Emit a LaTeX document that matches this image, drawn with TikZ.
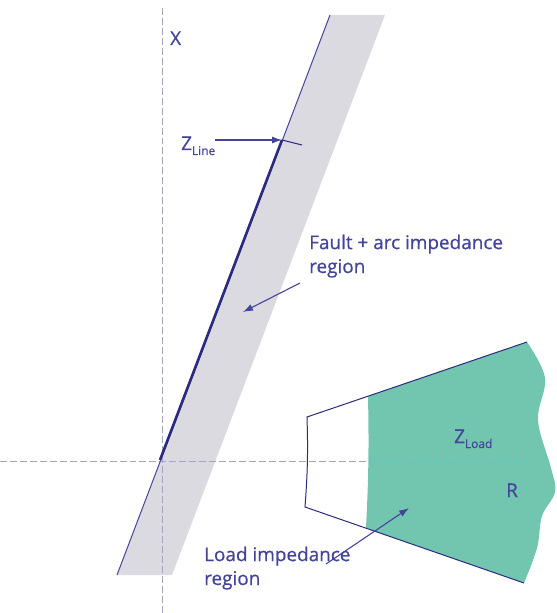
\documentclass[tikz,border=0pt]{standalone}
\usepackage{fontspec}
\setmainfont{Open Sans}
\newfontfamily\plotfont{Open Sans}[FakeBold=0.6]
\definecolor{PlotNavy}{HTML}{2A2A7E}
\definecolor{PlotText}{HTML}{44449A}
\definecolor{PlotAxis}{HTML}{A4A4C4}
\definecolor{PlotGrey}{HTML}{DADAE0}
\definecolor{PlotTeal}{HTML}{72C6AF}
\usetikzlibrary{arrows.meta, positioning, calc}
\newcommand{\zsub}[1]{\raisebox{-5bp}{\fontsize{12}{12}\selectfont #1}}
\tikzset{
    axisline/.style={
        draw=PlotAxis,
        dash pattern=on 7pt off 3pt,
        line width=0.9pt
    },
    plottext/.style={
        text=PlotText,
        font=\plotfont\fontsize{19}{24}\selectfont,
        align=left,
        inner sep=0pt
    },
    pointer/.style={
        -{Latex[length=10pt,width=7pt]},
        draw=PlotText,
        line width=1.1pt
    },
    edge/.style={
        draw=PlotNavy,
        line width=1pt
    }
}

\begin{document}
\begin{tikzpicture}[x=1bp, y=-1bp]
        \useasboundingbox (0,0) rectangle (557,613);

        % Fault + arc band
        \fill[PlotGrey] (117,575) -- (330,15) -- (385,15) -- (172,575) -- cycle;

        % Load region
        \fill[PlotTeal] (368,396) -- (527,342)
            -- plot[smooth, tension=0.6] coordinates {(527,342) (545,378) (538,420) (551,468) (555,492) (542,516) (537,548) (524,583)}
            -- (366,528) to[bend right=2] cycle;
        \draw[edge] (527,342) -- (307,417) to[bend left=3] (305,507) -- (524,583);

        % Axes
        \draw[axisline] (162,8) -- (162,613);
        \draw[axisline] (0,461) -- (526,461);

        % Line impedance
        \coordinate (origin) at (160,460);
        \coordinate (zreach) at (282,140);
        \draw[edge, draw=PlotText] (117,575) -- (330,15);
        \draw[PlotNavy, line width=2.6pt] (origin) -- (zreach);
        \draw[edge] (zreach) -- (302,145);

        % Labels
        \node[plottext, anchor=base west] (xlabel) at (170,45) {X};
        \node[plottext, anchor=base west] (rlabel) at (506,497) {R};
        \node[plottext, anchor=base west] (zline) at (181,150) {Z\zsub{Line}};
        \node[plottext, anchor=base west] (zload) at (454,443) {Z\zsub{Load}};
        \node[plottext, anchor=base west] (fault) at (309,273) {Fault + arc impedance\\region};
        \node[plottext, anchor=base west] (load) at (204,585) {Load impedance\\region};

        % Pointers
        \coordinate (faulttail) at (300,283);
        \coordinate (faulttip) at (243,312);
        \coordinate (loadtail) at (326,564);
        \coordinate (loadtip) at (409,508);
        \draw[pointer] (215,140) -- (zreach);
        \draw[pointer] (faulttail) -- (faulttip);
        \draw[pointer] (loadtail) -- (loadtip);
    \end{tikzpicture}
\end{document}
